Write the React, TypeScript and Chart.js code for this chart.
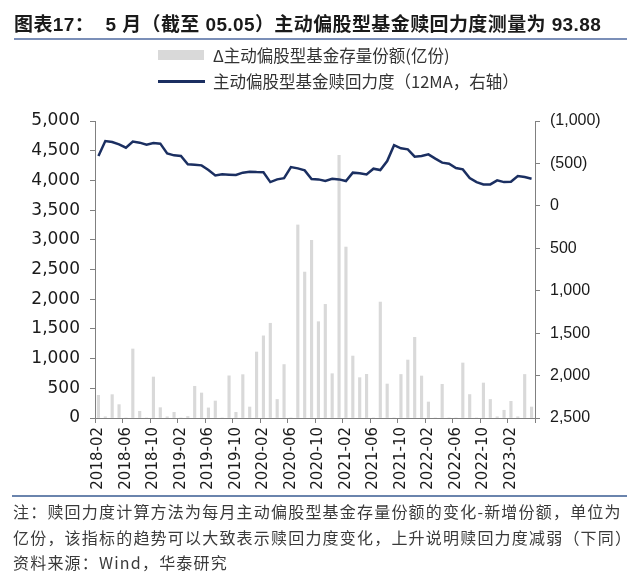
import { useEffect, useRef } from 'react';
import { Chart, registerables } from 'chart.js';

Chart.register(...registerables);

const months = [
  '2018-02', '2018-03', '2018-04', '2018-05', '2018-06', '2018-07', '2018-08', '2018-09', '2018-10', '2018-11', '2018-12',
  '2019-01', '2019-02', '2019-03', '2019-04', '2019-05', '2019-06', '2019-07', '2019-08', '2019-09', '2019-10', '2019-11', '2019-12',
  '2020-01', '2020-02', '2020-03', '2020-04', '2020-05', '2020-06', '2020-07', '2020-08', '2020-09', '2020-10', '2020-11', '2020-12',
  '2021-01', '2021-02', '2021-03', '2021-04', '2021-05', '2021-06', '2021-07', '2021-08', '2021-09', '2021-10', '2021-11', '2021-12',
  '2022-01', '2022-02', '2022-03', '2022-04', '2022-05', '2022-06', '2022-07', '2022-08', '2022-09', '2022-10', '2022-11', '2022-12',
  '2023-01', '2023-02', '2023-03', '2023-04', '2023-05',
];

// Δ主动偏股型基金存量份额(亿份) — left axis
const shareChange = [
  382, 20, 393, 225, 0, 1162, 113, 0, 690, 174, 20,
  95, 0, 25, 534, 421, 170, 286, 0, 710, 95, 730, 185,
  1111, 1383, 1595, 312, 900, 0, 3250, 2457, 2990, 1621, 1913, 746,
  4421, 2878, 1043, 679, 735, 0, 1952, 572, 0, 733, 976, 1358,
  707, 269, 0, 567, 0, 0, 926, 395, 0, 589, 312, 20,
  130, 281, 20, 733, 185,
];

// 主动偏股型基金赎回力度（12MA，右轴） — right axis (reversed)
const redemption = [
  -587, -764, -752, -725, -686, -757, -745, -721, -740, -733, -617,
  -595, -587, -489, -485, -477, -422, -359, -371, -367, -363, -391, -403,
  -398, -395, -280, -312, -327, -457, -442, -418, -316, -312, -294, -320,
  -312, -292, -391, -383, -371, -438, -422, -528, -715, -678, -666, -580,
  -587, -607, -556, -509, -497, -445, -430, -328, -280, -253, -253, -300,
  -280, -284, -351, -339, -320,
];

const barLabel = 'Δ主动偏股型基金存量份额(亿份)';
const lineLabel = '主动偏股型基金赎回力度（12MA，右轴）';
const titleText = '图表17：  5 月（截至 05.05）主动偏股型基金赎回力度测量为 93.88';
const noteLines = [
  '注：赎回力度计算方法为每月主动偏股型基金存量份额的变化-新增份额，单位为',
  '亿份，该指标的趋势可以大致表示赎回力度变化，上升说明赎回力度减弱（下同）',
  '资料来源：Wind，华泰研究',
];

const AXIS = '#808080';
const TEXT = '#1a1a1a';
const NAVY = '#1b2f61';
const BAR = '#d9d9d9';
const CJK = '"Noto Sans CJK SC", "Liberation Sans", sans-serif';

const fmt = (v: number) => Math.abs(v).toLocaleString('en-US');

export default function App() {
  const ref = useRef<HTMLCanvasElement>(null);

  useEffect(() => {
    document.body.style.margin = '0';
    const chart = new Chart(ref.current as HTMLCanvasElement, {
      type: 'bar',
      data: {
        labels: months,
        datasets: [
          {
            type: 'line',
            label: lineLabel,
            data: redemption,
            yAxisID: 'y1',
            borderColor: NAVY,
            backgroundColor: NAVY,
            borderWidth: 2.5,
            pointRadius: 0,
            tension: 0,
            order: 0,
          } as any,
          {
            type: 'bar',
            label: barLabel,
            data: shareChange,
            yAxisID: 'y',
            backgroundColor: BAR,
            barThickness: 2.5,
            order: 1,
          } as any,
        ],
      },
      options: {
        animation: false,
        responsive: false,
        devicePixelRatio: 1,
        layout: { padding: { top: 121, bottom: 87, left: 0, right: 0 } },
        plugins: {
          legend: { display: false },
          title: { display: false },
          tooltip: { enabled: false },
        },
        scales: {
          x: {
            type: 'category',
            offset: true,
            afterFit: (s: any) => {
              s.height = 78;
            },
            border: { display: true, color: AXIS, width: 1 },
            grid: {
              offset: true,
              drawOnChartArea: false,
              drawTicks: true,
              tickLength: 5,
              color: (ctx: any) =>
                ctx.index === undefined || ctx.index % 4 === 0 ? AXIS : 'rgba(0,0,0,0)',
            },
            ticks: {
              autoSkip: false,
              minRotation: 90,
              maxRotation: 90,
              padding: 4,
              color: TEXT,
              font: { family: '"DejaVu Sans"', size: 15 },
              callback: (_v: any, i: number) => (i % 4 === 0 ? months[i] : ''),
            },
          },
          y: {
            position: 'left',
            min: 0,
            max: 5000,
            afterFit: (s: any) => {
              s.width = 95;
            },
            border: { display: true, color: AXIS, width: 1 },
            grid: { drawOnChartArea: false, drawTicks: true, tickLength: 5, color: AXIS },
            ticks: {
              stepSize: 500,
              padding: 10,
              color: TEXT,
              font: { family: '"DejaVu Sans"', size: 17 },
              callback: (v: any) => fmt(Number(v)),
            },
          },
          y1: {
            position: 'right',
            reverse: true,
            min: -1000,
            max: 2500,
            afterFit: (s: any) => {
              s.width = 105;
            },
            border: { display: true, color: AXIS, width: 1 },
            grid: { drawOnChartArea: false, drawTicks: true, tickLength: 5, color: AXIS },
            ticks: {
              stepSize: 500,
              padding: 10,
              color: TEXT,
              font: { family: '"Liberation Sans"', size: 16 },
              callback: (v: any) => {
                const n = Number(v);
                return n < 0 ? `(${fmt(n)})` : fmt(n);
              },
            },
          },
        },
      } as any,
    });
    return () => chart.destroy();
  }, []);

  return (
    <div
      style={{
        position: 'absolute',
        left: 0,
        top: 0,
        width: 640,
        height: 583,
        background: '#fff',
        overflow: 'hidden',
        fontFamily: CJK,
      }}
    >
      <canvas ref={ref} width={640} height={583} style={{ position: 'absolute', left: 0, top: 0 }} />
      <div
        style={{
          position: 'absolute',
          left: 14,
          top: 13,
          lineHeight: '24px',
          fontSize: 19,
          letterSpacing: '0.4px',
          fontWeight: 700,
          color: TEXT,
          whiteSpace: 'pre',
          fontFamily: '"Liberation Sans", "Noto Sans CJK SC", sans-serif',
        }}
      >
        {titleText}
      </div>
      <div style={{ position: 'absolute', left: 14, top: 38, width: 613, height: 2, background: '#7b8fb8' }} />

      <div style={{ position: 'absolute', left: 158, top: 50, width: 46, height: 10, background: BAR }} />
      <div
        style={{
          position: 'absolute',
          left: 213,
          top: 44,
          lineHeight: '22px',
          fontSize: 16.5,
          color: '#333',
          whiteSpace: 'pre',
        }}
      >
        {barLabel}
      </div>
      <div style={{ position: 'absolute', left: 158, top: 80, width: 47, height: 2.5, background: NAVY }} />
      <div
        style={{
          position: 'absolute',
          left: 213,
          top: 70,
          lineHeight: '22px',
          fontSize: 16.5,
          color: '#333',
          whiteSpace: 'pre',
        }}
      >
        {lineLabel}
      </div>

      <div style={{ position: 'absolute', left: 12, top: 495, width: 615, height: 2, background: '#6a84ad' }} />
      {noteLines.map((t, i) => (
        <div
          key={i}
          style={{
            position: 'absolute',
            left: 13,
            top: 500 + i * 25.5,
            lineHeight: '22px',
            fontSize: 16,
            letterSpacing: '1.2px',
            color: '#3a3a3a',
            whiteSpace: 'pre',
          }}
        >
          {t}
        </div>
      ))}
    </div>
  );
}
